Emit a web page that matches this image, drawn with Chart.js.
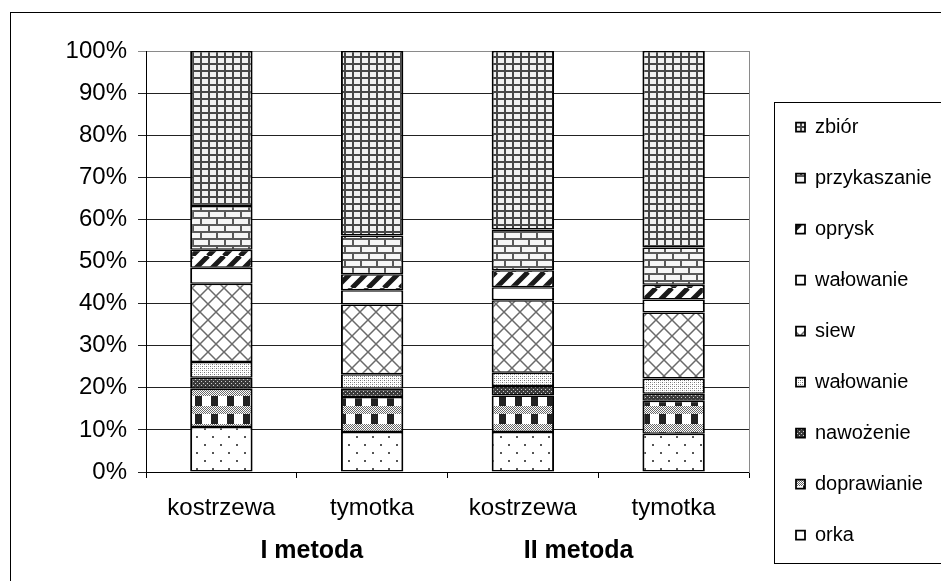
<!DOCTYPE html>
<html><head><meta charset="utf-8">
<script src="https://cdn.jsdelivr.net/npm/chart.js@4.4.0/dist/chart.umd.min.js"></script>
<style>html,body{margin:0;padding:0;background:#fff;}canvas{display:block;}</style>
</head><body>
<canvas id="c" width="941" height="581"></canvas>
<script>
const categories = ['kostrzewa', 'tymotka', 'kostrzewa', 'tymotka'];
const groupLabels = ['I metoda', 'II metoda'];
const seriesNames = ['orka', 'doprawianie', 'nawożenie', 'wałowanie', 'siew', 'wałowanie', 'oprysk', 'przykaszanie', 'zbiór'];
const orka         = [10.7, 9.5, 9.5, 9.1];
const doprawianie  = [9.1, 8.3, 8.7, 7.8];
const nawozenie    = [2.6, 2.0, 2.2, 1.7];
const walowanie1   = [3.7, 3.4, 3.2, 3.6];
const siew         = [18.6, 16.6, 17.2, 15.7];
const walowanie2   = [3.8, 3.4, 3.1, 3.1];
const oprysk       = [4.3, 3.8, 4.0, 3.5];
const przykaszanie = [10.4, 9.2, 9.7, 8.8];
const zbior        = [36.8, 43.8, 42.4, 46.7];
const yTickValues  = [0, 10, 20, 30, 40, 50, 60, 70, 80, 90, 100];

const FONT = '"Liberation Sans", Arial, sans-serif';
const canvas = document.getElementById('c');
const ctx = canvas.getContext('2d');

function tile(w, h, bg, fn) {
  const c = document.createElement('canvas');
  c.width = w; c.height = h;
  const g = c.getContext('2d');
  g.fillStyle = bg; g.fillRect(0, 0, w, h);
  fn(g);
  return ctx.createPattern(c, 'repeat');
}
const pOrka = tile(16, 16, '#fff', g => { g.fillStyle = '#555'; g.fillRect(4, 4, 2, 2); g.fillRect(12, 12, 2, 2); });
const pDopr = tile(16, 18, '#fff', g => {
  g.fillStyle = '#222'; g.fillRect(3, 0, 7, 10);
  g.fillStyle = '#666';
  for (let y = 10; y < 18; y++) for (let x = 0; x < 16; x++) if ((x + y) % 2 === 0) g.fillRect(x, y, 1, 1);
});
const pNaw = tile(4, 4, '#3a3a3a', g => { g.fillStyle = '#cfcfcf'; g.fillRect(1, 1, 1, 1); g.fillRect(3, 3, 1, 1); });
const pWal1 = tile(4, 4, '#fff', g => { g.fillStyle = '#707070'; g.fillRect(0, 0, 1, 1); g.fillRect(2, 2, 1, 1); g.fillStyle = '#bbb'; g.fillRect(2, 0, 1, 1); g.fillRect(0, 2, 1, 1); });
const pSiew = tile(16, 16, '#fff', g => {
  g.strokeStyle = '#6a6a6a'; g.lineWidth = 1.5; g.beginPath();
  g.moveTo(0, 0); g.lineTo(16, 16); g.moveTo(16, 0); g.lineTo(0, 16); g.stroke();
});
const pOprysk = tile(16, 16, '#fff', g => {
  g.strokeStyle = '#1a1a1a'; g.lineWidth = 5; g.beginPath();
  for (let k = -1; k <= 1; k++) { g.moveTo(k * 16, 16); g.lineTo(k * 16 + 16, 0); }
  g.stroke();
});
const pBrick = tile(16, 14, '#f6f6f6', g => {
  g.fillStyle = '#5a5a5a';
  g.fillRect(0, 0, 16, 2); g.fillRect(0, 7, 16, 2);
  g.fillRect(0, 0, 2, 7); g.fillRect(8, 7, 2, 7);
});
const pZbior = tile(8, 7, '#f0f0f0', g => { g.fillStyle = '#474747'; g.fillRect(0, 0, 8, 2); g.fillRect(0, 0, 2, 7); });

const seriesData = [orka, doprawianie, nawozenie, walowanie1, siew, walowanie2, oprysk, przykaszanie, zbior];
const fills = [pOrka, pDopr, pNaw, pWal1, pSiew, '#ffffff', pOprysk, pBrick, pZbior];

const datasets = seriesData.map((d, i) => ({
  label: seriesNames[i],
  data: d,
  backgroundColor: fills[i],
  borderColor: '#000',
  borderWidth: { left: 2, right: 2, top: 1.5, bottom: 1.5 },
  borderSkipped: false,
  barPercentage: 0.414,
  categoryPercentage: 1,
  stack: 's',
  xAxisID: 'x',
  yAxisID: 'y'
}));

const decor = {
  id: 'decor',
  beforeDraw(chart) {
    const c = chart.ctx;
    c.save();
    c.fillStyle = '#fff'; c.fillRect(0, 0, chart.width, chart.height);
    c.strokeStyle = '#000'; c.lineWidth = 1;
    c.strokeRect(10.5, 12.5, chart.width, chart.height);
    c.restore();
  },
  afterDraw(chart) {
    const c = chart.ctx;
    const hb = chart.legend.legendHitBoxes;
    const first = hb[0], last = hb[hb.length - 1];
    const l = Math.round(first.left - 22) + 0.5;
    const t = Math.round(first.top - 15) + 0.5;
    const b = Math.round(last.top + last.height + 18) + 0.5;
    c.save();
    c.strokeStyle = '#000'; c.lineWidth = 1;
    c.strokeRect(l, t, chart.width, b - t);
    const xs = chart.scales.x;
    c.fillStyle = '#000';
    c.font = 'bold 25px ' + FONT;
    c.textAlign = 'center'; c.textBaseline = 'alphabetic';
    c.fillText(groupLabels[0], xs.getPixelForValue(0.6), 558);
    c.fillText(groupLabels[1], xs.getPixelForValue(2.37), 558);
    c.restore();
  }
};

new Chart(ctx, {
  type: 'bar',
  data: { labels: categories, datasets },
  plugins: [decor],
  options: {
    responsive: false,
    animation: false,
    devicePixelRatio: 1,
    layout: { padding: { left: 10, top: 40, right: 0, bottom: 2 } },
    plugins: {
      tooltip: { enabled: false },
      title: { display: false },
      legend: {
        display: true,
        position: 'right',
        align: 'start',
        reverse: true,
        maxWidth: 176,
        title: { display: true, text: ' ', font: { size: 10 }, padding: { top: 0, bottom: 34 } },
        labels: {
          boxWidth: 9,
          boxHeight: 9,
          padding: 31,
          color: '#000',
          font: { family: FONT, size: 20 }
        }
      }
    },
    scales: {
      x: {
        type: 'category',
        position: 'bottom',
        stacked: true,
        offset: true,
        afterFit: s => { s.height = 107; },
        grid: { display: true, drawOnChartArea: false, drawTicks: true, tickLength: 6, offset: true, color: '#000' },
        border: { display: true, color: '#000', width: 1 },
        ticks: { color: '#000', padding: 16, font: { family: FONT, size: 24 }, maxRotation: 0, autoSkip: false }
      },
      xt: {
        type: 'category',
        position: 'top',
        display: true,
        afterFit: s => { s.height = 11; },
        grid: { display: false },
        border: { display: false },
        ticks: { display: false }
      },
      y: {
        type: 'linear',
        position: 'left',
        stacked: true,
        min: 0,
        max: 100,
        afterFit: s => { s.width = 136; },
        afterBuildTicks: s => { s.ticks = yTickValues.map(v => ({ value: v })); },
        grid: {
          color: c => (c.tick && c.tick.value === 100) ? '#8a8a8a' : '#222',
          lineWidth: 1,
          drawTicks: true,
          tickLength: 8
        },
        border: { display: true, color: '#000', width: 1 },
        ticks: { color: '#000', padding: 11, font: { family: FONT, size: 24 }, callback: v => v + '%' }
      },
      yr: {
        type: 'linear',
        position: 'right',
        display: true,
        afterFit: s => { s.width = 16; },
        grid: { display: false, drawTicks: false },
        border: { display: true, color: '#8a8a8a', width: 1 },
        ticks: { display: false }
      }
    }
  }
});
</script>
</body></html>
